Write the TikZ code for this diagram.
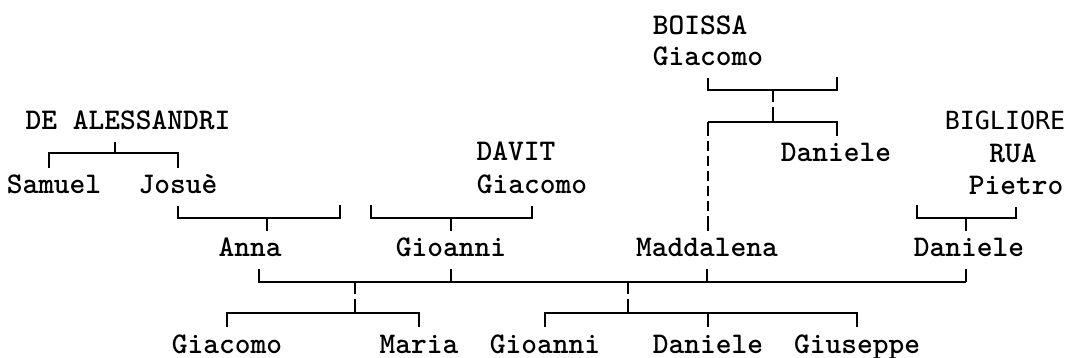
\documentclass[tikz,border=0pt]{standalone}
\usepackage{fontspec}
\newfontfamily\sansmono{DejaVu Sans Mono}
\tikzset{
  person/.style={anchor=base, inner sep=0pt, text height=19pt, text depth=5pt,
    font=\ttfamily\bfseries\fontsize{30}{36}\selectfont},
  tie/.style={line width=2pt},
  gap/.style={shorten <=7pt},
  gaps/.style={shorten <=7pt, shorten >=7pt},
  broken/.style={dash pattern=on 12pt off 5pt on 40pt},
  dashy/.style={dash pattern=on 14pt off 5pt on 10pt off 5pt on 10pt off 5pt on 10pt off 5pt on 10pt off 5pt on 10pt off 5pt on 15pt}
}
\begin{document}
\begin{tikzpicture}[x=1pt,y=-1pt]
\useasboundingbox (0,0) rectangle (1072,358);
% forebears
\node[person] (boissa) at (700,35) {BOISSA};
\node[person] (giacB) at (708,66) {Giacomo};
\node[person] (deal) at (128,130) {DE ALESSANDRI};
\node[person, font=\sansmono\fontsize{25}{30}\selectfont] (bigl) at (1005,130) {BIGLIORE};
\node[person] (danB) at (836,162) {Daniele};
\node[person] (davit) at (516,161) {DAVIT};
\node[person] (rua) at (1013,163) {RUA};
\node[person] (samuel) at (54,194) {Samuel};
\node[person] (josue) at (178,194) {Josuè};
\node[person] (giacD) at (532,194) {Giacomo};
\node[person] (pietro) at (1016,195) {Pietro};
% parents
\node[person] (anna) at (250,257) {Anna};
\node[person] (gioanni) at (451,257) {Gioanni};
\node[person] (madd) at (707,257) {Maddalena};
\node[person] (danR) at (969,257) {Daniele};
% children
\node[person] (giacC) at (227,353) {Giacomo};
\node[person] (maria) at (419,353) {Maria};
\node[person] (gioC) at (545,353) {Gioanni};
\node[person] (danC) at (708,353) {Daniele};
\node[person] (giuseppe) at (857,353) {Giuseppe};

\coordinate (deJ) at (115,153);
\coordinate (deL) at (49,153);
\coordinate (joR) at (340,218);
\coordinate (joTop) at (340,205);
\coordinate (joJ) at (267,218);
\coordinate (daL) at (371,205);
\coordinate (daJ) at (451,218);
\coordinate (piL) at (917,205);
\coordinate (piJ) at (966,218);
\coordinate (boTop) at (837,77);
\coordinate (boJ) at (773,90);
\coordinate (boK) at (773,122);
\coordinate (boL) at (708,122);
\coordinate (mA) at (259,282);
\coordinate (mD) at (966,282);
\coordinate (lJ) at (355,282);
\coordinate (lK) at (355,313);
\coordinate (rJ) at (628,282);
\coordinate (rK) at (628,313);

\draw[tie,gap] (deal.south -| deJ) -- (deJ);
\draw[tie,gaps] (samuel.north -| deL) -- (deL) -| (josue.north);
\draw[tie,gap] (josue.south) |- (joR) -- (joTop);
\draw[tie,gap] (anna.north -| joJ) -- (joJ);
\draw[tie,gap] (giacD.south) |- (daJ) -| (daL);
\draw[tie,gap] (gioanni.north -| daJ) -- (daJ);
\draw[tie,gap] (pietro.south) |- (piJ) -| (piL);
\draw[tie,gap] (danR.north -| piJ) -- (piJ);
\draw[tie,gap] (giacB.south) |- (boJ) -| (boTop);
\draw[tie,broken] (boJ) -- (boK);
\draw[tie,gap] (danB.north -| boTop) |- (boL);
\draw[tie,dashy,shorten >=7pt] (boL) -- (madd.north -| boL);
\draw[tie,gap] (anna.south -| mA) -- (mA) -- (mD);
\draw[tie,gap] (danR.south -| mD) -- (mD);
\foreach \p in {gioanni,madd}
  \draw[tie,gap] (\p.south) -- (\p.south |- mA);
\draw[tie,broken] (lJ) -- (lK);
\draw[tie,broken] (rJ) -- (rK);
\draw[tie,gaps] (giacC.north) |- (lK) -| (maria.north);
\draw[tie,gaps] (gioC.north) |- (rK) -| (giuseppe.north);
\draw[tie,gap] (danC.north) -- (danC.north |- rK);
\end{tikzpicture}
\end{document}
